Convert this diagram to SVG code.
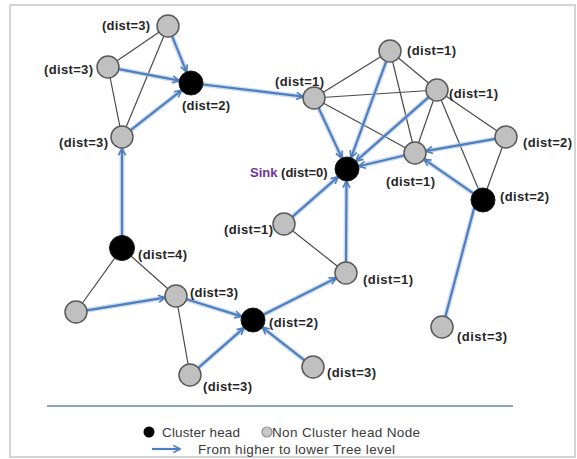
<svg xmlns="http://www.w3.org/2000/svg" xmlns:xlink="http://www.w3.org/1999/xlink" width="577" height="459" viewBox="0 0 577 459">
  <style>
    .frame { fill: #ffffff; stroke: #d4d4d4; stroke-width: 2; }
    .edge { stroke: #4a4a4a; stroke-width: 1.2; fill: none; }
    .halo { stroke: #a9c1e0; stroke-width: 5; stroke-opacity: 0.55; fill: none; stroke-linecap: round; }
    .flow { stroke: #4d7fbf; stroke-width: 2.2; fill: none; marker-end: url(#ah); }
    .nch { fill: #c0c0c0; stroke: #5a5a5a; stroke-width: 1.5; }
    .ch { fill: #000000; stroke: #1a1a1a; stroke-width: 1; }
    .lbl { font-family: "Liberation Sans", Arial, sans-serif; font-weight: bold; font-size: 13px; fill: #262626; }
    .sink { fill: #7030a0; }
    .leg { font-family: "Liberation Sans", Arial, sans-serif; font-size: 13.5px; fill: #3a3a3a; }
  </style>
  <defs>
    <marker id="ah" viewBox="0 0 10 10" refX="9" refY="5" markerWidth="9" markerHeight="9" markerUnits="userSpaceOnUse" orient="auto">
      <path d="M1.5,1 L9,5 L1.5,9" fill="none" stroke="#4d7fbf" stroke-width="1.8" stroke-linejoin="miter"/>
    </marker>
    <!-- tree-level flow paths (higher level to lower level) -->
    <path id="f1" d="M172.1,36.2 L186.5,71.9"/>
    <path id="f2" d="M118.8,69.1 L179.2,80.7"/>
    <path id="f3" d="M130.7,130.2 L181.5,90.4"/>
    <path id="f4" d="M202.9,84.5 L303.1,96.7"/>
    <path id="f5" d="M122,236 L122,148.5"/>
    <path id="f6" d="M86.9,310.3 L165.1,297.7"/>
    <path id="f7" d="M186.5,299.3 L241.5,316.4"/>
    <path id="f8" d="M198.3,367.8 L244,327.9"/>
    <path id="f9" d="M304.3,360.2 L262.4,327.4"/>
    <path id="f10" d="M263.7,314.6 L336.2,278"/>
    <path id="f11" d="M346,262 L346.5,181"/>
    <path id="f12" d="M292.3,216.8 L338,176.9"/>
    <path id="f13" d="M318.6,108 L341.9,158.1"/>
    <path id="f14" d="M386.2,61.3 L351.1,157.7"/>
    <path id="f15" d="M428.7,97.2 L356,161.1"/>
    <path id="f16" d="M404.3,155.5 L358.7,166.3"/>
    <path id="f17" d="M495.2,138.9 L425.8,151.1"/>
    <path id="f18" d="M473.1,193.2 L424,159.2"/>
    <path id="f19" d="M445.4,316.5 L479.3,188.6"/>
    <path id="f20" d="M152,449 L180,449"/>
  </defs>

  <rect class="frame" x="10" y="5" width="565" height="452"/>

  <g id="connectors">
    <!-- neighbourhood links -->
    <g id="links">
      <line class="edge" x1="168" y1="26" x2="108" y2="67"/>
      <line class="edge" x1="168" y1="26" x2="122" y2="137"/>
      <line class="edge" x1="108" y1="67" x2="122" y2="137"/>
      <line class="edge" x1="390" y1="51" x2="314" y2="98"/>
      <line class="edge" x1="314" y1="98" x2="437" y2="90"/>
      <line class="edge" x1="314" y1="98" x2="415" y2="153"/>
      <line class="edge" x1="390" y1="51" x2="415" y2="153"/>
      <line class="edge" x1="390" y1="51" x2="437" y2="90"/>
      <line class="edge" x1="437" y1="90" x2="415" y2="153"/>
      <line class="edge" x1="437" y1="90" x2="506" y2="137"/>
      <line class="edge" x1="437" y1="90" x2="483" y2="200"/>
      <line class="edge" x1="506" y1="137" x2="483" y2="200"/>
      <line class="edge" x1="122" y1="248" x2="76" y2="312"/>
      <line class="edge" x1="122" y1="248" x2="176" y2="296"/>
      <line class="edge" x1="176" y1="296" x2="190" y2="375"/>
      <line class="edge" x1="284" y1="224" x2="346" y2="273"/>
    </g>
    <!-- soft glow under the flow arrows -->
    <g id="flow-glow" class="halo">
      <use xlink:href="#f1"/><use xlink:href="#f2"/><use xlink:href="#f3"/><use xlink:href="#f4"/>
      <use xlink:href="#f5"/><use xlink:href="#f6"/><use xlink:href="#f7"/><use xlink:href="#f8"/>
      <use xlink:href="#f9"/><use xlink:href="#f10"/><use xlink:href="#f11"/><use xlink:href="#f12"/>
      <use xlink:href="#f13"/><use xlink:href="#f14"/><use xlink:href="#f15"/><use xlink:href="#f16"/>
      <use xlink:href="#f17"/><use xlink:href="#f18"/><use xlink:href="#f19"/>
    </g>
    <g id="flow" class="flow">
      <use xlink:href="#f1"/><use xlink:href="#f2"/><use xlink:href="#f3"/><use xlink:href="#f4"/>
      <use xlink:href="#f5"/><use xlink:href="#f6"/><use xlink:href="#f7"/><use xlink:href="#f8"/>
      <use xlink:href="#f9"/><use xlink:href="#f10"/><use xlink:href="#f11"/><use xlink:href="#f12"/>
      <use xlink:href="#f13"/><use xlink:href="#f14"/><use xlink:href="#f15"/><use xlink:href="#f16"/>
      <use xlink:href="#f17"/><use xlink:href="#f18"/><use xlink:href="#f19"/>
    </g>
  </g>

  <g id="nodes">
    <g id="n-a"><circle class="nch" cx="168" cy="26" r="11"/><text class="lbl" x="102" y="29.5" textLength="48">(dist=3)</text></g>
    <g id="n-b"><circle class="nch" cx="108" cy="67" r="11"/><text class="lbl" x="44" y="74" textLength="49">(dist=3)</text></g>
    <g id="n-c"><circle class="ch" cx="191" cy="83" r="12"/><text class="lbl" x="182" y="110" textLength="48">(dist=2)</text></g>
    <g id="n-d"><circle class="nch" cx="122" cy="137" r="11"/><text class="lbl" x="59" y="147" textLength="49">(dist=3)</text></g>
    <g id="n-e"><circle class="nch" cx="390" cy="51" r="11"/><text class="lbl" x="407" y="54.5" textLength="49">(dist=1)</text></g>
    <g id="n-f"><circle class="nch" cx="314" cy="98" r="11"/><text class="lbl" x="275" y="86" textLength="49">(dist=1)</text></g>
    <g id="n-g"><circle class="nch" cx="437" cy="90" r="11"/><text class="lbl" x="449" y="98" textLength="49">(dist=1)</text></g>
    <g id="n-h"><circle class="nch" cx="506" cy="137" r="11"/><text class="lbl" x="523" y="147" textLength="49">(dist=2)</text></g>
    <g id="n-i"><circle class="nch" cx="415" cy="153" r="11"/><text class="lbl" x="386" y="186" textLength="49">(dist=1)</text></g>
    <g id="n-sink"><circle class="ch" cx="347" cy="169" r="12"/><text class="lbl" x="250" y="177"><tspan class="sink">Sink</tspan> (dist=0)</text></g>
    <g id="n-k"><circle class="ch" cx="483" cy="200" r="12"/><text class="lbl" x="500" y="201" textLength="49">(dist=2)</text></g>
    <g id="n-q"><circle class="nch" cx="284" cy="224" r="11"/><text class="lbl" x="224" y="234" textLength="49">(dist=1)</text></g>
    <g id="n-l"><circle class="ch" cx="122" cy="248" r="12.5"/><text class="lbl" x="138" y="259" textLength="49">(dist=4)</text></g>
    <g id="n-m"><circle class="nch" cx="76" cy="312" r="11"/></g>
    <g id="n-n"><circle class="nch" cx="176" cy="296" r="11"/><text class="lbl" x="190" y="297" textLength="48">(dist=3)</text></g>
    <g id="n-o"><circle class="ch" cx="253" cy="320" r="12"/><text class="lbl" x="269" y="327" textLength="49">(dist=2)</text></g>
    <g id="n-p"><circle class="nch" cx="190" cy="375" r="11"/><text class="lbl" x="203" y="391" textLength="49">(dist=3)</text></g>
    <g id="n-r"><circle class="nch" cx="346" cy="273" r="11"/><text class="lbl" x="363" y="284" textLength="50">(dist=1)</text></g>
    <g id="n-s"><circle class="nch" cx="313" cy="367" r="11"/><text class="lbl" x="327" y="377" textLength="49">(dist=3)</text></g>
    <g id="n-t"><circle class="nch" cx="442" cy="327" r="11"/><text class="lbl" x="457" y="341" textLength="50">(dist=3)</text></g>
  </g>

  <g id="legend">
    <line x1="47" y1="406" x2="513" y2="406" stroke="#8ea4bf" stroke-width="2"/>
    <circle cx="149" cy="432" r="5.5" fill="#000"/>
    <text class="leg" x="162" y="436.5" textLength="78">Cluster head</text>
    <circle cx="267" cy="432" r="5" fill="#c8c8c8" stroke="#909090" stroke-width="1.2"/>
    <text class="leg" x="272" y="436.5" textLength="148">Non Cluster head Node</text>
    <use xlink:href="#f20" class="flow"/>
    <text class="leg" x="198" y="453.5" textLength="197">From higher to lower Tree level</text>
  </g>
</svg>
